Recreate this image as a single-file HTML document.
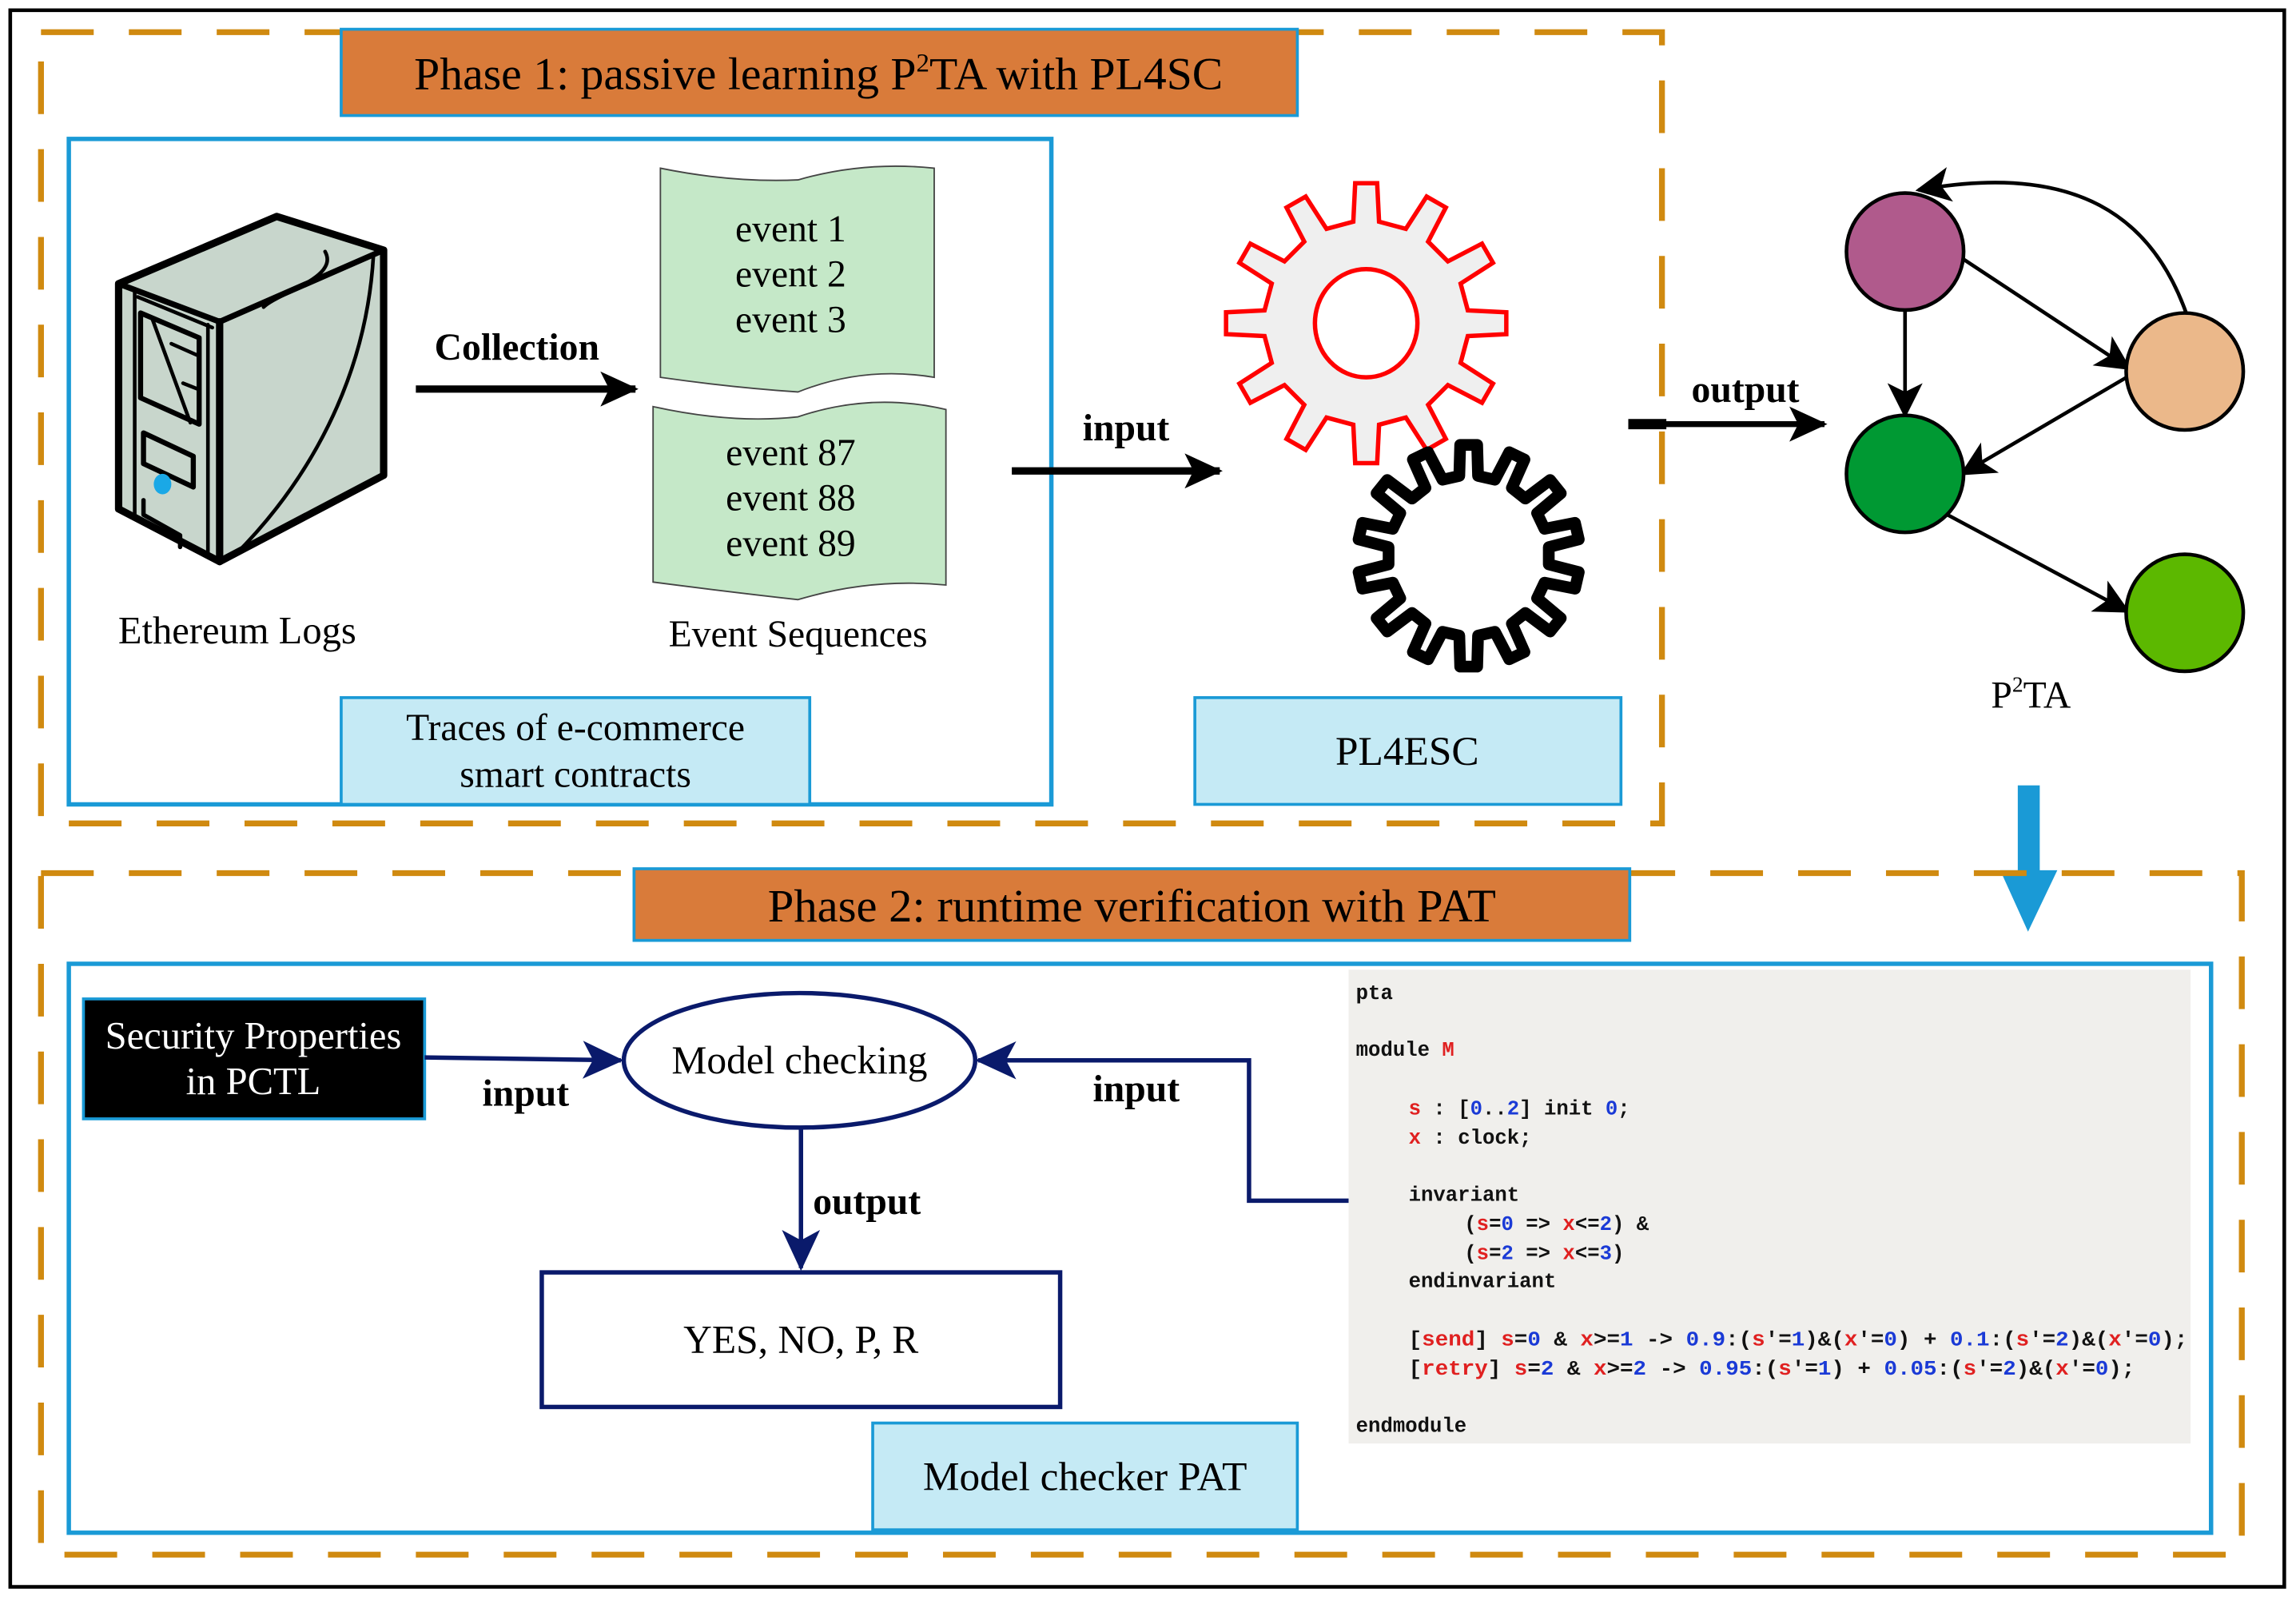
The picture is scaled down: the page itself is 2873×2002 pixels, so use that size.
<!DOCTYPE html>
<html><head><meta charset="utf-8"><style>
html,body{margin:0;padding:0;background:#fff}
svg{display:block}
text{font-family:"Liberation Serif",serif}
.code{font-family:"Liberation Mono",monospace;font-size:14px;font-weight:bold}
</style></head><body>
<svg width="2873" height="2002" viewBox="0 0 1568 1094" preserveAspectRatio="none" xmlns="http://www.w3.org/2000/svg">
<defs>
<marker id="ahb" markerWidth="26" markerHeight="24" refX="24" refY="12" orient="auto" markerUnits="userSpaceOnUse"><path d="M0,0 L26,12 L0,24 L6,12 z" fill="#000"/></marker>
<marker id="ahg" markerWidth="24" markerHeight="24" refX="22" refY="12" orient="auto" markerUnits="userSpaceOnUse"><path d="M0,0 L24,12 L0,24 L6,12 z" fill="#000"/></marker>
<marker id="ahn" markerWidth="28" markerHeight="26" refX="26" refY="13" orient="auto" markerUnits="userSpaceOnUse"><path d="M0,0 L28,13 L0,26 L7,13 z" fill="#0a1a6b"/></marker>
</defs>
<rect x="0" y="0" width="1568" height="1094" fill="#fff"/>
<rect x="7" y="7" width="1553" height="1078" fill="none" stroke="#000" stroke-width="2.5"/>

<!-- Phase 1 -->
<rect x="28" y="22" width="1107" height="541" fill="none" stroke="#d08a10" stroke-width="4" stroke-dasharray="36 24"/>
<rect x="47" y="95" width="671" height="455" fill="none" stroke="#1a9ad6" stroke-width="3"/>
<rect x="233" y="20" width="653" height="59" fill="#d97b3a" stroke="#1a9ad6" stroke-width="2"/>
<text x="559" y="61" font-size="31.5" text-anchor="middle">Phase 1: passive learning P<tspan font-size="18" dy="-12">2</tspan><tspan dy="12">TA with PL4SC</tspan></text>

<!-- server -->
<g stroke="#000" stroke-linejoin="round" stroke-linecap="round">
<path d="M81,194 L189,148 L262,171 L262,325 L150,384 L81,348 Z" fill="#c8d6cc" stroke-width="5"/>
<path d="M81,194 L150,220 L262,171" fill="none" stroke-width="4"/>
<path d="M150,220 L150,384" fill="none" stroke-width="5"/>
<path d="M92,198 L92,352 M142,222 L142,378" fill="none" stroke-width="2.5"/>
<path d="M94,203 L145,224" fill="none" stroke-width="2.5"/>
<path d="M96,214 L136,231 L136,290 L96,272 Z" fill="#c8d6cc" stroke-width="3.5"/>
<path d="M104,218 L130,289 M117,235 L135,243 M125,262 L135,266" fill="none" stroke-width="2.5"/>
<path d="M98,296 L132,312 L132,333 L98,317 Z" fill="none" stroke-width="3.5"/>
<path d="M98,342 L98,352 L123,366 L123,374" fill="none" stroke-width="3"/>
<path d="M222,172 C232,190 190,200 180,210" fill="none" stroke-width="2.5"/>
<path d="M255,175 C250,260 210,330 160,380" fill="none" stroke-width="2.5"/>
</g>
<ellipse cx="111" cy="331" rx="6" ry="7" fill="#1aa8e6"/>
<text x="162" y="440" font-size="26.5" text-anchor="middle">Ethereum Logs</text>

<text x="353" y="246" font-size="26" font-weight="bold" text-anchor="middle">Collection</text>
<line x1="284" y1="266" x2="434" y2="266" stroke="#000" stroke-width="5" marker-end="url(#ahb)"/>

<!-- event docs -->
<path d="M451,115 Q500,125 545,123 Q590,110 638,115 L638,258 Q590,250 545,268 Q500,265 451,258 Z" fill="#c5e8c8" stroke="#444" stroke-width="1"/>
<text x="540" y="165" font-size="26" text-anchor="middle">event 1</text>
<text x="540" y="196" font-size="26" text-anchor="middle">event 2</text>
<text x="540" y="227" font-size="26" text-anchor="middle">event 3</text>
<path d="M446,278 Q500,290 545,285 Q595,268 646,280 L646,400 Q595,395 545,410 Q500,405 446,398 Z" fill="#c5e8c8" stroke="#444" stroke-width="1"/>
<text x="540" y="318" font-size="26" text-anchor="middle">event 87</text>
<text x="540" y="349" font-size="26" text-anchor="middle">event 88</text>
<text x="540" y="380" font-size="26" text-anchor="middle">event 89</text>
<text x="545" y="442" font-size="26" text-anchor="middle">Event Sequences</text>

<rect x="233" y="477" width="320" height="73" fill="#c5eaf5" stroke="#1a9ad6" stroke-width="2"/>
<text x="393" y="506" font-size="26" text-anchor="middle">Traces of e-commerce</text>
<text x="393" y="538" font-size="26" text-anchor="middle">smart contracts</text>

<text x="769" y="301" font-size="26" font-weight="bold" text-anchor="middle">input</text>
<line x1="691" y1="322" x2="833" y2="322" stroke="#000" stroke-width="5" marker-end="url(#ahb)"/>

<!-- gears -->
<path id="g1" fill="#efefef" stroke="#f00" stroke-width="3" stroke-linejoin="miter"/>
<ellipse cx="933" cy="221" rx="35" ry="37" fill="#fff" stroke="#f00" stroke-width="3"/>
<path id="g2" fill="#fff" stroke="#000" stroke-width="8" stroke-linejoin="round"/>

<rect x="816" y="477" width="291" height="73" fill="#c5eaf5" stroke="#1a9ad6" stroke-width="2"/>
<text x="961" y="523" font-size="28" text-anchor="middle">PL4ESC</text>

<text x="1192" y="275" font-size="26" font-weight="bold" text-anchor="middle">output</text>
<line x1="1112" y1="290" x2="1138" y2="290" stroke="#000" stroke-width="7"/>
<line x1="1135" y1="290" x2="1246" y2="290" stroke="#000" stroke-width="4" marker-end="url(#ahb)"/>

<!-- graph -->
<g stroke="#000" stroke-width="2.5" fill="none">
<path d="M1493,214 C1470,150 1420,110 1310,130" marker-end="url(#ahg)"/>
<line x1="1301" y1="212" x2="1301" y2="284" marker-end="url(#ahg)"/>
<line x1="1339" y1="176" x2="1454" y2="252" marker-end="url(#ahg)"/>
<line x1="1454" y1="257" x2="1340" y2="324" marker-end="url(#ahg)"/>
<line x1="1330" y1="352" x2="1453" y2="418" marker-end="url(#ahg)"/>
</g>
<circle cx="1301" cy="172" r="40" fill="#b05a8c" stroke="#000" stroke-width="2.5"/>
<circle cx="1492" cy="254" r="40" fill="#ebb88a" stroke="#000" stroke-width="2.5"/>
<circle cx="1301" cy="324" r="40" fill="#009933" stroke="#000" stroke-width="2.5"/>
<circle cx="1492" cy="419" r="40" fill="#5cb800" stroke="#000" stroke-width="2.5"/>
<text x="1387" y="484" font-size="26" text-anchor="middle">P<tspan font-size="15" dy="-11">2</tspan><tspan dy="11">TA</tspan></text>

<!-- blue down arrow -->
<rect x="1378" y="537" width="15" height="60" fill="#1a9ad6"/>
<path d="M1366,595 L1405,595 L1385,637 Z" fill="#1a9ad6"/>

<!-- Phase 2 -->
<rect x="28" y="597" width="1503" height="466" fill="none" stroke="#d08a10" stroke-width="4" stroke-dasharray="36 24"/>
<rect x="47" y="659" width="1463" height="389" fill="none" stroke="#1a9ad6" stroke-width="3"/>
<rect x="433" y="594" width="680" height="49" fill="#d97b3a" stroke="#1a9ad6" stroke-width="2"/>
<text x="773" y="630" font-size="32" text-anchor="middle">Phase 2: runtime verification with PAT</text>

<rect x="57" y="683" width="233" height="82" fill="#000" stroke="#1a9ad6" stroke-width="2"/>
<text x="173" y="717" font-size="26.5" fill="#fff" text-anchor="middle">Security Properties</text>
<text x="173" y="748" font-size="26.5" fill="#fff" text-anchor="middle">in PCTL</text>

<line x1="290" y1="723" x2="424" y2="725" stroke="#0a1a6b" stroke-width="3" marker-end="url(#ahn)"/>
<text x="359" y="756" font-size="26" font-weight="bold" text-anchor="middle">input</text>

<ellipse cx="546" cy="725" rx="120" ry="46" fill="#fff" stroke="#0a1a6b" stroke-width="3"/>
<text x="546" y="734" font-size="27" text-anchor="middle">Model checking</text>

<path d="M921,821 L853,821 L853,725 L668,725" fill="none" stroke="#0a1a6b" stroke-width="3" marker-end="url(#ahn)"/>
<text x="776" y="753" font-size="26" font-weight="bold" text-anchor="middle">input</text>

<line x1="547" y1="771" x2="547" y2="867" stroke="#0a1a6b" stroke-width="3" marker-end="url(#ahn)"/>
<text x="592" y="830" font-size="26" font-weight="bold" text-anchor="middle">output</text>

<rect x="370" y="870" width="354" height="92" fill="#fff" stroke="#0a1a6b" stroke-width="3"/>
<text x="547" y="925" font-size="27" text-anchor="middle">YES, NO, P, R</text>

<rect x="596" y="973" width="290" height="73" fill="#c5eaf5" stroke="#1a9ad6" stroke-width="2"/>
<text x="741" y="1019" font-size="28" text-anchor="middle">Model checker PAT</text>

<!-- code -->
<rect x="921" y="663" width="575" height="324" fill="#f0efec"/>
<g fill="#111">
<text x="926" y="683" class="code">pta</text>
<text x="926" y="722" class="code">module <tspan fill="#e02020">M</tspan></text>
<text x="962" y="762" class="code"><tspan fill="#e02020">s</tspan> : [<tspan fill="#1a3ad6">0</tspan>..<tspan fill="#1a3ad6">2</tspan>] init <tspan fill="#1a3ad6">0</tspan>;</text>
<text x="962" y="782" class="code"><tspan fill="#e02020">x</tspan> : clock;</text>
<text x="962" y="821" class="code">invariant</text>
<text x="1000" y="841" class="code">(<tspan fill="#e02020">s</tspan>=<tspan fill="#1a3ad6">0</tspan> =&gt; <tspan fill="#e02020">x</tspan>&lt;=<tspan fill="#1a3ad6">2</tspan>) &amp;</text>
<text x="1000" y="861" class="code">(<tspan fill="#e02020">s</tspan>=<tspan fill="#1a3ad6">2</tspan> =&gt; <tspan fill="#e02020">x</tspan>&lt;=<tspan fill="#1a3ad6">3</tspan>)</text>
<text x="962" y="880" class="code">endinvariant</text>
<text x="962" y="920" class="code" textLength="532" lengthAdjust="spacingAndGlyphs">[<tspan fill="#e02020">send</tspan>] <tspan fill="#e02020">s</tspan>=<tspan fill="#1a3ad6">0</tspan> &amp; <tspan fill="#e02020">x</tspan>&gt;=<tspan fill="#1a3ad6">1</tspan> -&gt; <tspan fill="#1a3ad6">0.9</tspan>:(<tspan fill="#e02020">s</tspan>'=<tspan fill="#1a3ad6">1</tspan>)&amp;(<tspan fill="#e02020">x</tspan>'=<tspan fill="#1a3ad6">0</tspan>) + <tspan fill="#1a3ad6">0.1</tspan>:(<tspan fill="#e02020">s</tspan>'=<tspan fill="#1a3ad6">2</tspan>)&amp;(<tspan fill="#e02020">x</tspan>'=<tspan fill="#1a3ad6">0</tspan>);</text>
<text x="962" y="940" class="code" textLength="496" lengthAdjust="spacingAndGlyphs">[<tspan fill="#e02020">retry</tspan>] <tspan fill="#e02020">s</tspan>=<tspan fill="#1a3ad6">2</tspan> &amp; <tspan fill="#e02020">x</tspan>&gt;=<tspan fill="#1a3ad6">2</tspan> -&gt; <tspan fill="#1a3ad6">0.95</tspan>:(<tspan fill="#e02020">s</tspan>'=<tspan fill="#1a3ad6">1</tspan>) + <tspan fill="#1a3ad6">0.05</tspan>:(<tspan fill="#e02020">s</tspan>'=<tspan fill="#1a3ad6">2</tspan>)&amp;(<tspan fill="#e02020">x</tspan>'=<tspan fill="#1a3ad6">0</tspan>);</text>
<text x="926" y="979" class="code">endmodule</text>
</g>
</svg>
<script>
function gear(cx,cy,n,ro,ri,a1,a2){
  var d="",step=2*Math.PI/n;
  for(var i=0;i<n;i++){
    var a=i*step-Math.PI/2;
    var pts=[[ri,a-step*a1],[ro,a-step*a2],[ro,a+step*a2],[ri,a+step*a1]];
    for(var j=0;j<4;j++){
      var r=pts[j][0],t=pts[j][1];
      d+=(i==0&&j==0?"M":"L")+(cx+r*Math.cos(t)).toFixed(1)+","+(cy+r*Math.sin(t)).toFixed(1);
    }
  }
  return d+"Z";
}
document.getElementById("g1").setAttribute("d",gear(933,221,12,96,70,0.24,0.15));
document.getElementById("g2").setAttribute("d",gear(1003,380,14,76,55,0.26,0.17));
</script>
</body></html>
